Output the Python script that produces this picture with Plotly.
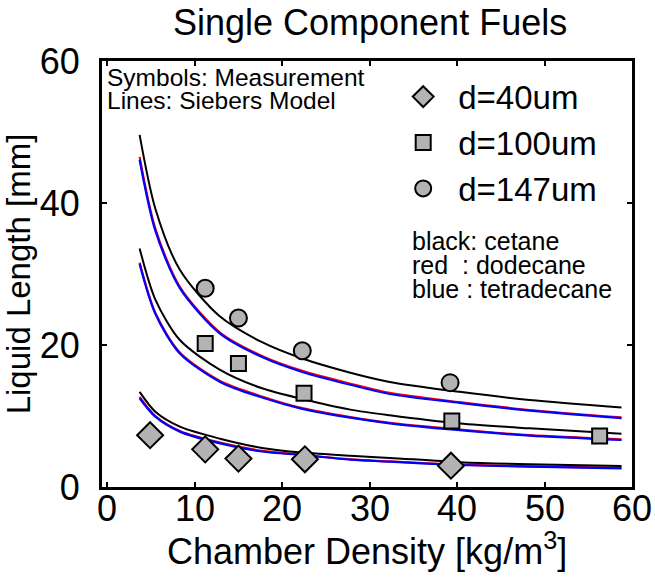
import plotly.graph_objects as go

# ---- data ----
x_model = [3.7, 5.5, 8.3, 12.9, 17.7, 22.3, 27.8, 32.3, 40.3, 48.3, 58.8]

cet_147 = [49.6, 39.2, 30.6, 24.0, 20.4, 18.1, 16.1, 14.8, 13.4, 12.25, 11.2]
dod_147 = [46.5, 36.4, 28.2, 21.75, 18.45, 16.35, 14.55, 13.25, 11.95, 10.85, 9.8]
tet_147 = [46.1, 36.1, 28.0, 21.6, 18.3, 16.2, 14.4, 13.1, 11.85, 10.75, 9.7]

cet_100 = [33.6, 26.4, 20.7, 16.5, 13.9, 12.4, 10.9, 10.1, 8.95, 8.26, 7.5]
dod_100 = [31.6, 24.5, 18.95, 14.95, 12.75, 11.1, 9.85, 9.05, 8.1, 7.3, 6.7]
tet_100 = [31.4, 24.4, 18.8, 14.8, 12.6, 11.0, 9.76, 8.97, 8.0, 7.23, 6.62]

cet_40 = [13.4, 10.6, 8.5, 6.8, 5.5, 4.85, 4.4, 4.1, 3.5, 3.19, 2.96]
dod_40 = [12.7, 10.0, 7.9, 6.25, 5.1, 4.55, 3.9, 3.6, 3.15, 2.9, 2.68]
tet_40 = [12.5, 9.9, 7.8, 6.15, 5.0, 4.5, 3.85, 3.56, 3.1, 2.86, 2.63]

d40_x = [4.9, 11.2, 15.0, 22.6, 39.3]
d40_y = [7.3, 5.3, 4.0, 3.9, 3.0]
d100_x = [11.2, 15.0, 22.5, 39.4, 56.3]
d100_y = [20.2, 17.4, 13.2, 9.3, 7.2]
d147_x = [11.2, 15.0, 22.3, 39.2]
d147_y = [28.0, 23.8, 19.2, 14.7]

x_ticks = [0, 10, 20, 30, 40, 50, 60]
x_tick_labels = ["0", "10", "20", "30", "40", "50", "60"]
y_ticks = [0, 20, 40, 60]

note_lines = ["Symbols: Measurement", "Lines: Siebers Model"]
fuel_lines = ["black: cetane", "red  : dodecane", "blue : tetradecane"]

FONT = "Liberation Sans, Arial, sans-serif"
GRAY = "#b3b3b3"

fig = go.Figure()

def model_line(y, color, width):
    fig.add_trace(go.Scatter(x=x_model, y=y, mode="lines",
                             line=dict(color=color, width=width, shape="spline", smoothing=0.8),
                             showlegend=False, hoverinfo="skip"))

for grp in [(dod_147, tet_147, cet_147), (dod_100, tet_100, cet_100), (dod_40, tet_40, cet_40)]:
    model_line(grp[0], "#ff0000", 2.2)
    model_line(grp[1], "#0000ff", 2.2)
    model_line(grp[2], "#000000", 2)

fig.add_trace(go.Scatter(x=d40_x, y=d40_y, mode="markers", name="d=40um",
                         marker=dict(symbol="diamond", size=20, color=GRAY,
                                     line=dict(color="black", width=2))))
fig.add_trace(go.Scatter(x=d100_x, y=d100_y, mode="markers", name="d=100um",
                         marker=dict(symbol="square", size=15, color=GRAY,
                                     line=dict(color="black", width=2))))
fig.add_trace(go.Scatter(x=d147_x, y=d147_y, mode="markers", name="d=147um",
                         marker=dict(symbol="circle", size=17, color=GRAY,
                                     line=dict(color="black", width=2))))

axis_common = dict(showline=True, linewidth=3, linecolor="black", mirror="ticks",
                   ticks="inside", ticklen=5, tickwidth=2, tickcolor="black",
                   showgrid=False, zeroline=False,
                   tickfont=dict(family=FONT, size=36, color="black"))

fig.update_xaxes(range=[-0.6, 60], tickvals=x_ticks, showticklabels=False, **axis_common)
fig.update_yaxes(range=[0, 60], tickvals=y_ticks,
                 title=dict(text="Liquid Length [mm]",
                            font=dict(family=FONT, size=33, color="black"), standoff=4),
                 ticklabelstandoff=12, **axis_common)

PLOT_TOP, PLOT_H = 61, 426
def ypaper(px):
    return 1 - (px - PLOT_TOP) / PLOT_H

# x tick labels (placed closer to the axis than plotly allows)
for v, lab in zip(x_ticks, x_tick_labels):
    fig.add_annotation(text=lab, x=v, xref="x", y=ypaper(508), yref="paper",
                       xanchor="center", yanchor="middle", showarrow=False,
                       font=dict(family=FONT, size=36, color="black"))
# x axis title
fig.add_annotation(text="Chamber Density [kg/m<sup>3</sup>]", x=0.5, xref="paper",
                   y=ypaper(549), yref="paper", xanchor="center", yanchor="middle",
                   showarrow=False, font=dict(family=FONT, size=36, color="black"))

for txt, py in zip(note_lines, [77, 100]):
    fig.add_annotation(text=txt, xref="paper", yref="paper", x=0.006, y=ypaper(py),
                       xanchor="left", yanchor="middle", showarrow=False,
                       font=dict(family=FONT, size=24.5, color="black"))
for txt, py in zip(fuel_lines, [241, 265, 289]):
    fig.add_annotation(text=txt, xref="paper", yref="paper", x=0.582, y=ypaper(py),
                       xanchor="left", yanchor="middle", showarrow=False,
                       font=dict(family=FONT, size=25, color="black"))

fig.update_layout(
    width=655, height=577,
    margin=dict(l=102, r=23, t=61, b=90),
    paper_bgcolor="white", plot_bgcolor="white",
    title=dict(text="Single Component Fuels", x=0.565, xanchor="center", y=0.962, yanchor="middle",
               font=dict(family=FONT, size=36, color="black")),
    legend=dict(x=0.540, y=0.982, xanchor="left", yanchor="top", bgcolor="rgba(0,0,0,0)",
                itemwidth=60, font=dict(family=FONT, size=33, color="black"),
                tracegroupgap=0),
    showlegend=True,
)

fig.write_html("out.html")
